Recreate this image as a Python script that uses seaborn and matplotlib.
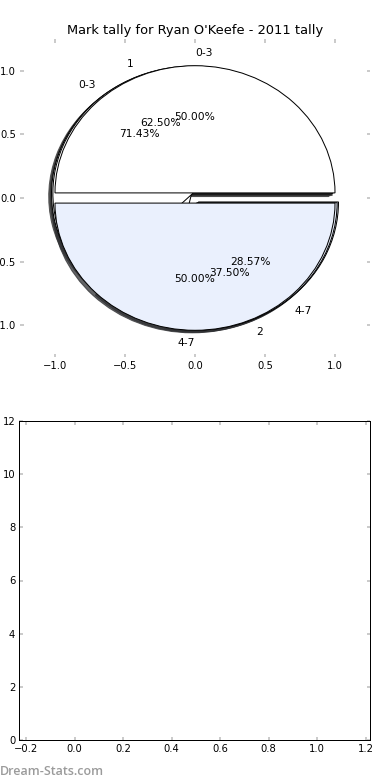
import matplotlib
matplotlib.use("Agg")
import matplotlib.pyplot as plt
import seaborn as sns

sns.set_theme(style="white")
plt.rcParams['font.family'] = ['DejaVu Sans']
plt.rcParams['axes.unicode_minus'] = True

title = "Mark tally for Ryan O'Keefe - 2011 tally"
# three overlaid pies
pie1_labels = ["0-3", "4-7"]
pie1_values = [1, 1]
pie2_labels = ["1", "2"]
pie2_values = [5, 3]
pie3_labels = ["0-3", "4-7"]
pie3_values = [5, 2]
pie_colors = ["#ffffff", "#eaf0fd"]
pie_ticks = [-1.0, -0.5, 0.0, 0.5, 1.0]
bottom_xticks = [-0.2, 0.0, 0.2, 0.4, 0.6, 0.8, 1.0, 1.2]
bottom_yticks = [0, 2, 4, 6, 8, 10, 12]

W, H = 390, 780
fig = plt.figure(figsize=(W / 72, H / 72), dpi=72)
fig.patch.set_facecolor("white")

ax1 = fig.add_axes([20 / W, (H - 357) / H, 350 / W, 318 / H])
ax2 = fig.add_axes([19.3 / W, (H - 740) / H, 350.7 / W, 319 / H])

wp = dict(edgecolor="black", linewidth=1.0)
tp = dict(fontsize=10.6, color="black")
for vals, labs in [(pie3_values, pie3_labels), (pie2_values, pie2_labels), (pie1_values, pie1_labels)]:
    wedges, texts, autotexts = ax1.pie(
        vals, labels=labs, colors=pie_colors, explode=(0.04, 0.04),
        autopct="%1.2f%%", shadow=dict(shade=0.8, alpha=0.75), startangle=0,
        wedgeprops=wp, textprops=tp, labeldistance=1.1, pctdistance=0.6)
    for t in texts:
        x, y = t.get_position()
        if abs(x) < 1e-6:
            t.set_horizontalalignment("left" if y > 0 else "right")
        else:
            t.set_horizontalalignment("left" if x > 0 else "right")

ax1.set_aspect("auto")
ax1.set_frame_on(False)
ax1.set_xlim(-1.25, 1.25)
ax1.set_ylim(-1.25, 1.25)
ax1.set_xticks(pie_ticks)
ax1.set_yticks(pie_ticks)
ax1.set_title(title, fontsize=13, color="black", pad=5)

ax2.set_xlim(-0.228, 1.218)
ax2.set_ylim(0, 12)
ax2.set_xticks(bottom_xticks)
ax2.set_yticks(bottom_yticks)
for s in ax2.spines.values():
    s.set_color("black")
    s.set_linewidth(1.0)
    s.set_visible(True)

for ax in (ax1, ax2):
    ax.tick_params(axis="both", which="both", direction="in", length=3.5, width=1.5,
                   color="#bbbbbb", labelcolor="black", labelsize=10, pad=4,
                   top=True, right=True, bottom=True, left=True)

fig.text(0.0, 2 / H, "Dream-Stats.com", fontsize=12.5, color="#9b9b9b",
         fontweight="semibold", family=["Open Sans", "DejaVu Sans"], ha="left", va="bottom")

fig.savefig("out.png", dpi=72, facecolor="white")
